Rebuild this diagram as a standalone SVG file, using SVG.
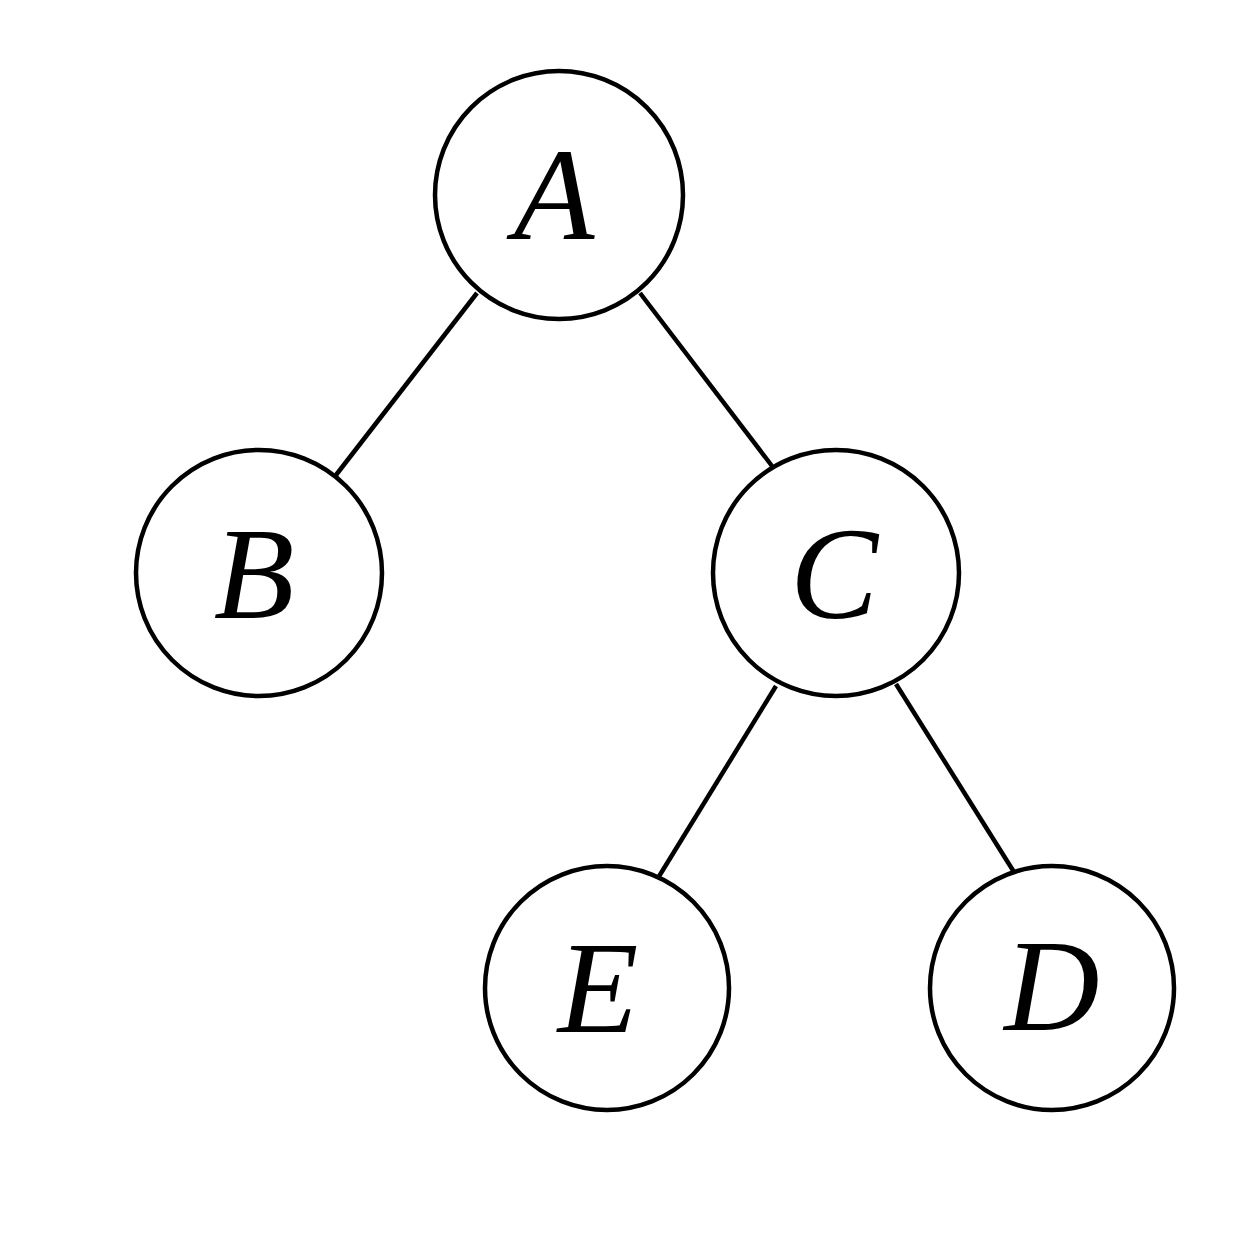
<svg xmlns="http://www.w3.org/2000/svg" width="1254" height="1254" viewBox="0 0 1254 1254">
<style>
.n{fill:#fff;stroke:#000;stroke-width:4.5}
.e{stroke:#000;stroke-width:4.5;fill:none}
.t{font-family:"Liberation Serif","Times New Roman",serif;font-style:italic;font-size:132px;text-anchor:middle;fill:#000}
</style>
<rect width="1254" height="1254" fill="#fff"/>
<g id="edges">
<line class="e" x1="477" y1="293" x2="336" y2="475"/>
<line class="e" x1="640" y1="293" x2="772" y2="466"/>
<line class="e" x1="776" y1="686" x2="658" y2="878"/>
<line class="e" x1="896" y1="684" x2="1014" y2="872"/>
</g>
<g id="A"><circle class="n" cx="559" cy="195" r="124"/><text class="t" x="554" y="239">A</text></g>
<g id="B"><circle class="n" cx="259" cy="573" r="123"/><text class="t" x="254" y="618">B</text></g>
<g id="C"><circle class="n" cx="836" cy="573" r="123"/><text class="t" x="834" y="618">C</text></g>
<g id="E"><circle class="n" cx="607" cy="988" r="122"/><text class="t" x="598" y="1032">E</text></g>
<g id="D"><circle class="n" cx="1052" cy="988" r="122"/><text class="t" x="1052" y="1030">D</text></g>
</svg>
